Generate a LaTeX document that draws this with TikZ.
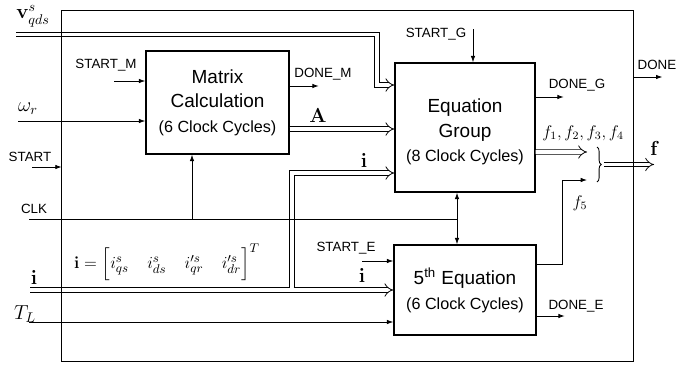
\documentclass[tikz,border=0pt]{standalone}
\usepackage{amsmath,amssymb}
\usepackage[no-math]{fontspec}
\setmainfont{Liberation Sans}
\usetikzlibrary{arrows.meta, positioning, calc, decorations.pathreplacing}
\newcommand{\ttlsz}{\fontsize{13.5}{17.5}\selectfont}
\newcommand{\cycsz}{\fontsize{11.5}{17.5}\selectfont}
\tikzset{
  blk/.style={rectangle, draw=black, line width=1pt, align=center, inner sep=0pt, font=\ttlsz},
  arr/.style={-{Latex[length=4.5pt,width=3.2pt]}, line width=0.6pt},
  wire/.style={line width=0.6pt},
  bus/.style={double distance=2.8pt, line width=0.55pt},
  busarr/.style={bus, -{Implies}},
  sig/.style={font=\fontsize{9.5}{11}\selectfont, inner sep=0pt},
  mth/.style={font=\fontsize{14}{16}\selectfont, inner sep=0pt},
}

\begin{document}
\begin{tikzpicture}[x=0.025cm, y=-0.025cm]
  \useasboundingbox (0,0) rectangle (678,369);
  %% frame and blocks
  \node[rectangle, minimum width=14.275cm, minimum height=8.75cm, inner sep=0pt] (frame) at (347.5,186) {};
  \node[blk, minimum width=3.575cm, minimum height=2.575cm] (mat) at (217.5,102.5)
    {Matrix\\Calculation\\\cycsz(6 Clock Cycles)};
  \node[blk, minimum width=3.5cm, minimum height=3.225cm] (eqg) at (465,127.5)
    {\rule{0pt}{16pt}Equation\\Group\\\cycsz(8 Clock Cycles)};
  \node[blk, minimum width=3.55cm, minimum height=2.25cm] (eq5) at (465,290)
    {5\textsuperscript{th} Equation\\\cycsz(6 Clock Cycles)};

  %% free ends
  \coordinate (vIn)  at (16,34.5);
  \coordinate (vT)   at (377,85);
  \coordinate (smIn) at ($(mat.west)+(-31,-21.5)$);
  \coordinate (wIn)  at (18,121);
  \coordinate (stIn) at (32,167);
  \coordinate (clkIn) at (29,219);
  \coordinate (clkM) at ($(mat.south)+(-25.5,0)$);
  \coordinate (clkJ) at ($(eqg.south)+(-8,0)$);
  \coordinate (iIn)  at (30,290);
  \coordinate (iJ)   at (292,290);
  \coordinate (iG)   at ($(eqg.west)+(0,45.5)$);
  \coordinate (tIn)  at (29,322);
  \coordinate (seIn) at ($(eq5.west)+(-31,-29)$);
  \coordinate (sgIn) at ($(eqg.north)+(8,-33)$);
  \coordinate (aS)   at ($(mat.east)+(0,26.5)$);
  \coordinate (dmS)  at ($(mat.east)+(0,-16.5)$);
  \coordinate (dgS)  at ($(eqg.east)+(0,-30.5)$);
  \coordinate (deS)  at ($(eq5.east)+(0,26)$);
  \coordinate (dS)   at ($(frame.east)+(0,-109)$);
  \coordinate (fS)   at ($(eqg.east)+(0,24.5)$);
  \coordinate (fE)   at (587,152);
  \coordinate (f5S)  at ($(eq5.east)+(0,-26)$);
  \coordinate (f5E)  at (587,180);
  \coordinate (brT)  at (604,164.5);
  \coordinate (fOut) at (654,164.5);

  %% buses
  \draw[busarr] (vIn) -| (vT) -- (vT -| eqg.west);
  \draw[busarr] (aS) -- (aS -| eqg.west);
  \draw[busarr] (iIn) -- (iJ) |- (iG);
  \draw[busarr] ($(iJ)+(1.7,0)$) -- (eq5.west);
  \draw[busarr] (fS) -- (fE);
  \draw[busarr] (brT) -- (fOut);

  %% single lines
  \draw[arr] (smIn) -- (smIn -| mat.west);
  \draw[arr] (wIn) -- (wIn -| mat.west);
  \draw[arr] (stIn) -- (stIn -| frame.west);
  \draw[wire] (clkIn) -- (clkIn -| clkJ);
  \draw[arr] (clkM |- clkIn) -- (clkM);
  \draw[arr, {Latex[length=4.5pt,width=3.2pt]}-{Latex[length=4.5pt,width=3.2pt]}] (clkJ) -- (clkJ |- eq5.north);
  \draw[arr] (tIn) -- (tIn -| eq5.west);
  \draw[arr] (seIn) -- (seIn -| eq5.west);
  \draw[arr] (sgIn) -- (sgIn |- eqg.north);
  \draw[arr] (dmS) -- ++(29,0);
  \draw[arr] (dgS) -- ++(28,0);
  \draw[arr] (deS) -- ++(28,0);
  \draw[arr] (dS) -- ++(29,0);
  \draw[arr] (f5S) -- ++(26,0) |- (f5E);
  \draw[line width=0.6pt, decorate, decoration={brace, amplitude=3pt}] (597,147) -- (597,182);

  %% labels
  \node[mth, anchor=west] (vLbl) at (16,16) {$\mathbf{v}_{qds}^{s}$};
  \node[sig] (smLbl) at (106,65) {START\_M};
  \node[mth] (wLbl) at (28,109) {$\omega_r$};
  \node[sig] (stLbl) at (30,157) {START};
  \node[sig] (clkLbl) at (34,209) {CLK};
  \node[mth] (iLbl) at (34,277) {$\mathbf{i}$};
  \node[mth] (tLbl) at (25,314) {$T_L$};
  \node[mth, font=\fontsize{13}{15}\selectfont] (iEq) at (167,262)
    {$\mathbf{i}=\left[\vphantom{\Big|} i_{qs}^{s}\quad i_{ds}^{s}\quad i_{qr}^{\prime s}\quad i_{dr}^{\prime s}\right]^{T}$};
  \node[mth] (aLbl) at (318,116) {$\mathbf{A}$};
  \node[sig] (dmLbl) at (323,74) {DONE\_M};
  \node[sig] (sgLbl) at (436,34) {START\_G};
  \node[sig] (dgLbl) at (577,85) {DONE\_G};
  \node[sig] (dLbl) at (657,65) {DONE};
  \node[mth, font=\fontsize{12}{14}\selectfont] (fLbl) at (583,133) {$f_1,f_2,f_3,f_4$};
  \node[mth, font=\fontsize{12}{14}\selectfont] (f5Lbl) at (580,203) {$f_5$};
  \node[mth] (fBold) at (655,148) {$\mathbf{f}$};
  \node[sig] (seLbl) at (346,248) {START\_E};
  \node[mth] (i5Lbl) at (362,275) {$\mathbf{i}$};
  \node[mth] (iGLbl) at (364,160) {$\mathbf{i}$};
  \node[sig] (deLbl) at (576,306) {DONE\_E};

  %% outer frame on top
  \draw[line width=1pt] (frame.north west) rectangle (frame.south east);
\end{tikzpicture}
\end{document}
